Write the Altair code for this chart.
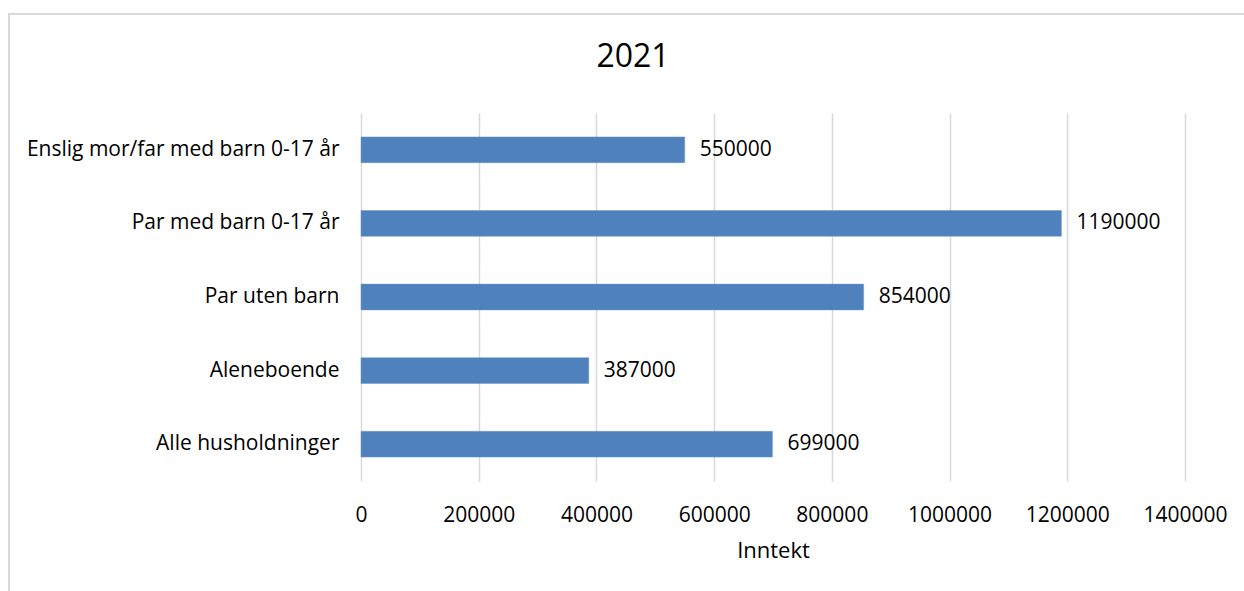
import altair as alt
import pandas as pd

categories = ["Enslig mor/far med barn 0-17 år", "Par med barn 0-17 år", "Par uten barn",
              "Aleneboende", "Alle husholdninger"]
values = [550000, 1190000, 854000, 387000, 699000]
ticks = [0, 200000, 400000, 600000, 800000, 1000000, 1200000, 1400000]
title_text = ["2021"]

df = pd.DataFrame({"kategori": categories, "inntekt": values})

FONT = "Open Sans"
W, H = 824, 368
PL, PT = 361, 113

xenc = alt.X("inntekt:Q", scale=alt.Scale(domain=[0, 1400000], nice=False),
             axis=alt.Axis(values=ticks, format="d", title="Inntekt", grid=True,
                           gridColor="#D9D9D9", gridWidth=1.5, domain=False, ticks=False,
                           labelOverlap=False, labelFlush=False,
                           labelFont=FONT, labelFontSize=21, labelColor="#000000",
                           labelPadding=23, titleFont=FONT, titleFontSize=22,
                           titleFontWeight="normal", titleColor="#000000", titlePadding=15))
yenc = alt.Y("kategori:N", sort=categories,
             scale=alt.Scale(paddingInner=0.65, paddingOuter=0.325),
             axis=alt.Axis(title=None, domain=False, ticks=False, labelFont=FONT,
                           labelFontSize=21, labelColor="#000000", labelPadding=22,
                           labelLimit=400))

frame = alt.Chart(df).mark_rect(fill=None, stroke="#D9D9D9", strokeWidth=2, clip=False).encode(
    x=alt.value(9 - PL), x2=alt.value(1260 - PL), y=alt.value(14 - PT), y2=alt.value(600 - PT)
)

title = alt.Chart(pd.DataFrame({"t": title_text})).mark_text(
    font=FONT, fontSize=32, color="#000000", align="center", baseline="middle"
).encode(text="t:N", x=alt.value(633 - PL), y=alt.value(57 - PT))

bars = alt.Chart(df).mark_bar(color="#4F81BD", stroke="#6C96C8", strokeWidth=0.5).encode(
    x=xenc, y=yenc
)

labels = alt.Chart(df).mark_text(align="left", baseline="middle", dx=15, font=FONT,
                                 fontSize=21, color="#000000").encode(
    x="inntekt:Q", y=alt.Y("kategori:N", sort=categories), text=alt.Text("inntekt:Q", format="d")
)

chart = alt.layer(frame, title, bars, labels).properties(
    width=W, height=H,
    autosize=alt.AutoSizeParams(type="none"),
    padding={"left": PL, "top": PT, "right": 1244 - PL - W, "bottom": 591 - PT - H},
    background="#FFFFFF",
).configure_view(stroke=None)

chart.save("out.html", embed_options={"renderer": "svg", "actions": False})
